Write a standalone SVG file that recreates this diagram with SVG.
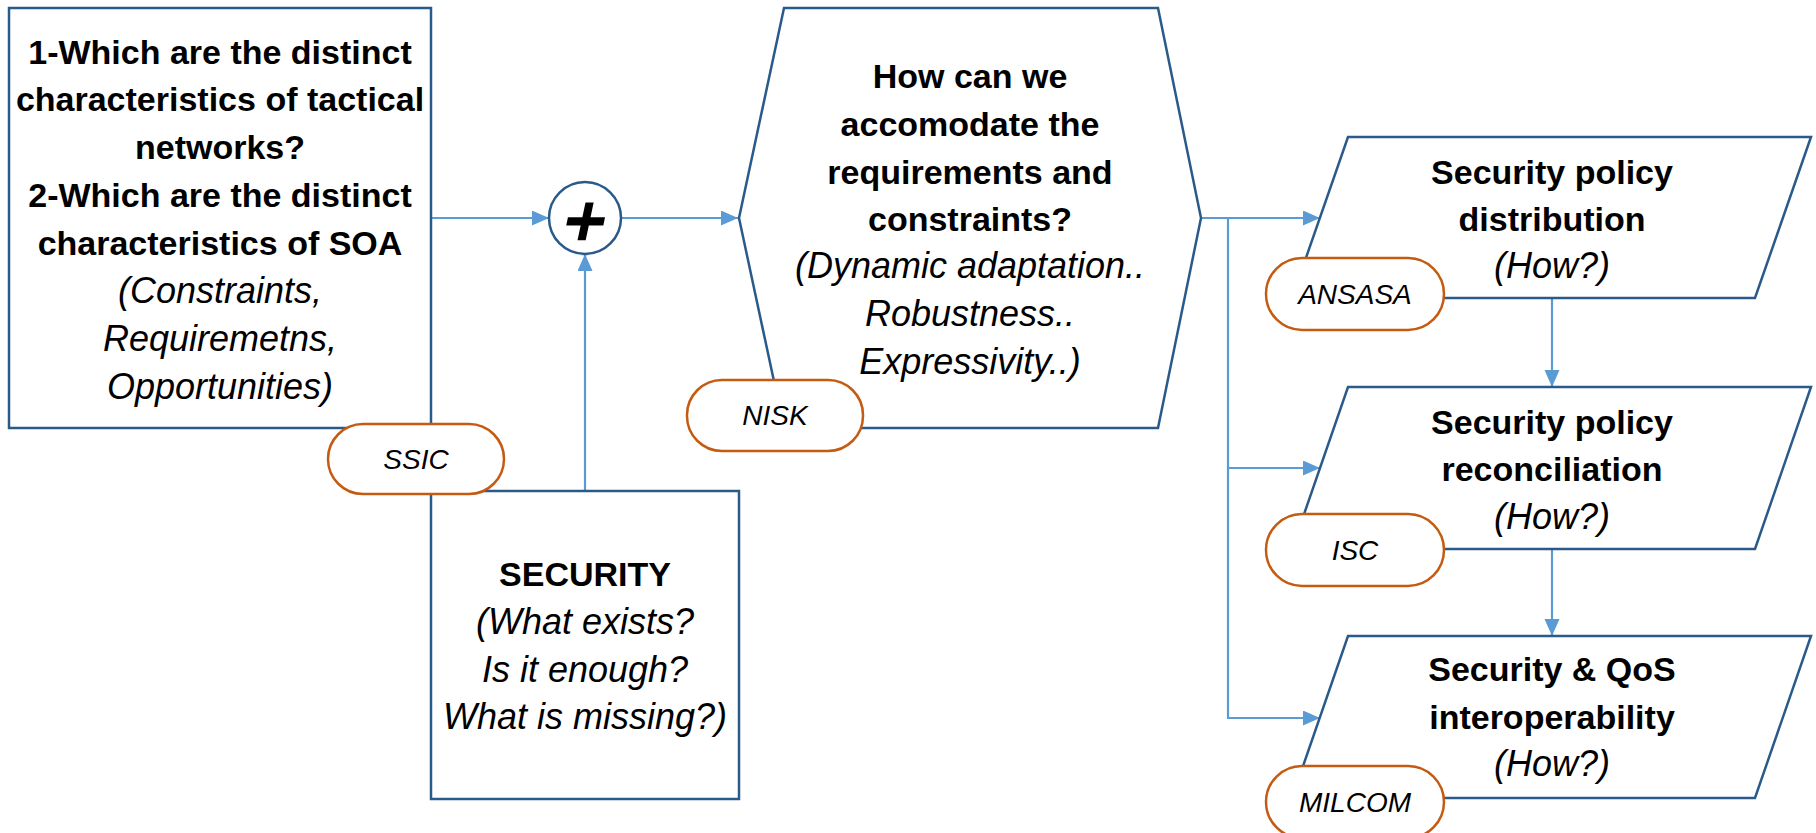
<svg xmlns="http://www.w3.org/2000/svg" width="1816" height="833" viewBox="0 0 1816 833">
  <style>
    .box { fill: #ffffff; stroke: #2A5A8A; stroke-width: 2.5; }
    .pill { fill: #ffffff; stroke: #C55A11; stroke-width: 2.5; }
    .link { fill: none; stroke: #5B9BD5; stroke-width: 2.2; }
    text { font-family: "Liberation Sans", Arial, sans-serif; fill: #000000; text-anchor: middle; }
    .b { font-weight: bold; font-size: 34px; }
    .i { font-style: italic; font-size: 36px; }
    .tag { font-style: italic; font-size: 28px; }
  </style>
  <defs>
    <marker id="arrow" markerUnits="userSpaceOnUse" markerWidth="18" markerHeight="16" refX="17" refY="7.5" orient="auto">
      <path d="M0,0 L17,7.5 L0,15 z" fill="#5B9BD5"/>
    </marker>
  </defs>

  <!-- connectors -->
  <g id="connectors">
    <path class="link" d="M431,218 H549" marker-end="url(#arrow)"/>
    <path class="link" d="M585,491 V254" marker-end="url(#arrow)"/>
    <path class="link" d="M621,218 H738" marker-end="url(#arrow)"/>
    <path class="link" d="M1201,218 H1320" marker-end="url(#arrow)"/>
    <path class="link" d="M1228,218 V718 H1320" marker-end="url(#arrow)"/>
    <path class="link" d="M1228,468 H1320" marker-end="url(#arrow)"/>
    <path class="link" d="M1552,298 V387" marker-end="url(#arrow)"/>
    <path class="link" d="M1552,549 V636" marker-end="url(#arrow)"/>
  </g>

  <!-- question box -->
  <g id="characteristics">
    <rect class="box" x="9" y="8" width="422" height="420"/>
    <text class="b" x="220" y="64">1-Which are the distinct</text>
    <text class="b" x="220" y="111">characteristics of tactical</text>
    <text class="b" x="220" y="159">networks?</text>
    <text class="b" x="220" y="207">2-Which are the distinct</text>
    <text class="b" x="220" y="255">characteristics of SOA</text>
    <text class="i" x="220" y="303">(Constraints,</text>
    <text class="i" x="220" y="351">Requiremetns,</text>
    <text class="i" x="220" y="399">Opportunities)</text>
  </g>

  <!-- combining junction -->
  <g id="junction">
    <circle class="box" cx="585" cy="218" r="36"/>
    <text x="0" y="27" transform="translate(586,219) skewX(-12)" style="font-size:74px;font-weight:bold;">+</text>
  </g>

  <!-- security box -->
  <g id="security">
    <rect class="box" x="431" y="491" width="308" height="308"/>
    <text class="b" x="585" y="586">SECURITY</text>
    <text class="i" x="585" y="634">(What exists?</text>
    <text class="i" x="585" y="682">Is it enough?</text>
    <text class="i" x="585" y="729">What is missing?)</text>
  </g>

  <!-- hexagon -->
  <g id="accommodate">
    <polygon class="box" points="739,218 784,8 1158,8 1201,218 1158,428 784,428"/>
    <text class="b" x="970" y="88">How can we</text>
    <text class="b" x="970" y="136">accomodate the</text>
    <text class="b" x="970" y="184">requirements and</text>
    <text class="b" x="970" y="231">constraints?</text>
    <text class="i" x="970" y="278">(Dynamic adaptation..</text>
    <text class="i" x="970" y="326">Robustness..</text>
    <text class="i" x="970" y="374">Expressivity..)</text>
  </g>

  <!-- right column -->
  <g id="distribution">
    <polygon class="box" points="1348,137 1811,137 1755,298 1292,298"/>
    <text class="b" x="1552" y="184">Security policy</text>
    <text class="b" x="1552" y="231">distribution</text>
    <text class="i" x="1552" y="278">(How?)</text>
  </g>
  <g id="reconciliation">
    <polygon class="box" points="1348,387 1811,387 1755,549 1292,549"/>
    <text class="b" x="1552" y="434">Security policy</text>
    <text class="b" x="1552" y="481">reconciliation</text>
    <text class="i" x="1552" y="529">(How?)</text>
  </g>
  <g id="interoperability">
    <polygon class="box" points="1348,636 1811,636 1755,798 1292,798"/>
    <text class="b" x="1552" y="681">Security &amp; QoS</text>
    <text class="b" x="1552" y="729">interoperability</text>
    <text class="i" x="1552" y="776">(How?)</text>
  </g>

  <!-- venue tags -->
  <g id="tag-ssic">
    <rect class="pill" x="328" y="424" width="176" height="70" rx="35"/>
    <text class="tag" x="416" y="469">SSIC</text>
  </g>
  <g id="tag-nisk">
    <rect class="pill" x="687" y="380" width="176" height="71" rx="35"/>
    <text class="tag" x="775" y="425">NISK</text>
  </g>
  <g id="tag-ansasa">
    <rect class="pill" x="1266" y="258" width="178" height="72" rx="36"/>
    <text class="tag" x="1355" y="304">ANSASA</text>
  </g>
  <g id="tag-isc">
    <rect class="pill" x="1266" y="514" width="178" height="72" rx="36"/>
    <text class="tag" x="1355" y="560">ISC</text>
  </g>
  <g id="tag-milcom">
    <rect class="pill" x="1266" y="766" width="178" height="72" rx="36"/>
    <text class="tag" x="1355" y="812">MILCOM</text>
  </g>
</svg>
